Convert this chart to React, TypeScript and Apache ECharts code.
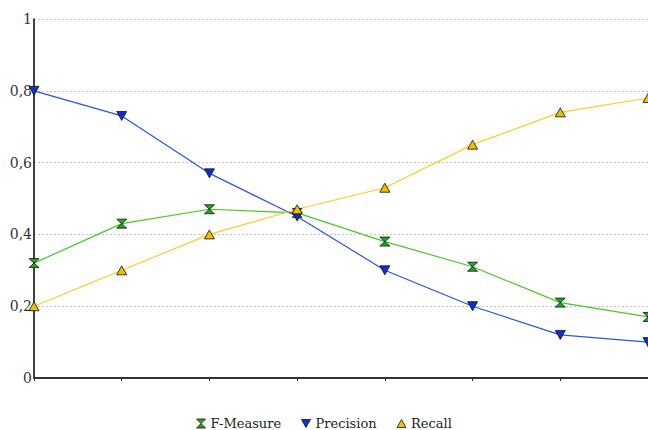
import React, { useEffect, useRef } from "react";
import * as echarts from "echarts";

const categories = ["1", "2", "3", "4", "5", "6", "7", "8"];
const fMeasure = [0.32, 0.43, 0.47, 0.46, 0.38, 0.31, 0.21, 0.17];
const precision = [0.8, 0.73, 0.57, 0.45, 0.3, 0.2, 0.12, 0.1];
const recall = [0.2, 0.3, 0.4, 0.47, 0.53, 0.65, 0.74, 0.78];
const yTicks = [0, 0.2, 0.4, 0.6, 0.8, 1];

const HOURGLASS = "path://M0,0 L10,0 L5,5 L10,10 L0,10 L5,5 Z";
const TRI_DOWN = "path://M0,0 L10,0 L5,9 Z";
const TRI_UP = "path://M5,0 L10,9 L0,9 Z";

const FONT = "DejaVu Serif";

export default function App() {
  const ref = useRef<HTMLDivElement>(null);
  useEffect(() => {
    if (!ref.current) return;
    const chart = echarts.init(ref.current, null, { renderer: "svg" });
    const mk = (name: string, data: number[], line: string, fill: string, sym: string) => ({
      name,
      type: "line",
      data,
      symbol: sym,
      symbolSize: [10, 9],
      showAllSymbol: true,
      lineStyle: { color: line, width: 1.2 },
      itemStyle: { color: fill, borderColor: "#111", borderWidth: 0.8 },
      emphasis: { disabled: true },
    });
    chart.setOption({
      animation: false,
      backgroundColor: "#fff",
      textStyle: { fontFamily: FONT },
      grid: { left: 34, right: -4, top: 19, bottom: 52, containLabel: false },
      legend: {
        top: 417,
        left: "center",
        padding: 0,
        itemWidth: 9,
        itemHeight: 9,
        itemGap: 20,
        textStyle: { fontFamily: FONT, fontSize: 13, lineHeight: 13, color: "#222" },
        data: [
          { name: "F-Measure", icon: HOURGLASS, itemStyle: { color: "#22aa22", borderColor: "#111", borderWidth: 0.8 } },
          { name: "Precision", icon: TRI_DOWN, itemStyle: { color: "#1030d0", borderColor: "#111", borderWidth: 0.8 } },
          { name: "Recall", icon: TRI_UP, itemStyle: { color: "#f0c000", borderColor: "#111", borderWidth: 0.8 } },
        ],
      },
      xAxis: {
        type: "category",
        data: categories,
        boundaryGap: false,
        axisLine: { lineStyle: { color: "#333", width: 2 } },
        axisTick: { show: true, length: 3, lineStyle: { color: "#333" } },
        axisLabel: { show: false },
        splitLine: { show: false },
      },
      yAxis: {
        type: "value",
        min: 0,
        max: 1,
        interval: 0.2,
        axisLine: { show: true, lineStyle: { color: "#000", width: 1.5 } },
        axisTick: { show: false },
        axisLabel: {
          margin: 2,
          fontFamily: FONT,
          fontSize: 14,
          color: "#333",
          formatter: (v: number) => {
            const t = yTicks.find((x) => Math.abs(x - v) < 1e-9);
            return String(t !== undefined ? t : v).replace(".", ",");
          },
        },
        splitLine: { show: true, lineStyle: { color: "#c8c8c8", type: [2, 2], width: 1 } },
      },
      series: [
        mk("F-Measure", fMeasure, "#44cc22", "#22aa22", HOURGLASS),
        mk("Precision", precision, "#2a55e0", "#1030d0", TRI_DOWN),
        mk("Recall", recall, "#ffcc22", "#f0c000", TRI_UP),
      ],
    });
    return () => chart.dispose();
  }, []);
  return <div ref={ref} style={{ width: 648, height: 430, position: "absolute", left: 0, top: 0 }} />;
}
